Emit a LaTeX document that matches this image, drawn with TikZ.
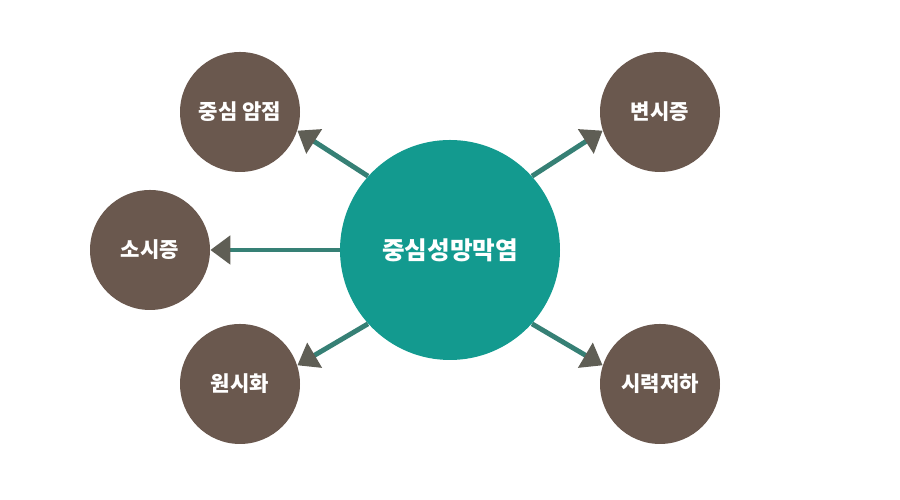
\documentclass[tikz,border=0pt]{standalone}
\usepackage{fontspec}
\newfontfamily\kr{Noto Sans CJK KR}
\usetikzlibrary{arrows.meta}
\definecolor{mainteal}{HTML}{139A8F}
\definecolor{sidebrown}{HTML}{6A584E}
\definecolor{tipgrey}{HTML}{5F5E55}
\tikzset{
  center/.style={circle, fill=mainteal, text=white, inner sep=0pt, minimum size=4.4cm, font=\kr\bfseries\fontsize{14}{16}\selectfont},
  side/.style={circle, fill=sidebrown, text=white, inner sep=0pt, minimum size=2.4cm, font=\kr\bfseries\fontsize{12}{14}\selectfont},
  link/.style={draw=mainteal!60!sidebrown, line width=2.8pt, -{Triangle[length=0.4cm, width=0.56cm, color=tipgrey]}}
}
\begin{document}
\begin{tikzpicture}
    \useasboundingbox (0,0) rectangle (18,10);
    \node[center] (c) at (9,5) {중심성망막염};
    \node[side] (1) at (4.8,7.76) {중심 암점};
    \node[side] (2) at (13.2,7.76) {변시증};
    \node[side] (3) at (3,5) {소시증};
    \node[side] (4) at (4.8,2.32) {원시화};
    \node[side] (5) at (13.2,2.32) {시력저하};

    \draw[link] (c.138) -- (1.-18);
    \draw[link] (c.42) -- (2.198);
    \draw[link] (c) -- (3);
    \draw[link] (c.222) -- (4.18);
    \draw[link] (c.-42) -- (5.162);
  \end{tikzpicture}
\end{document}
